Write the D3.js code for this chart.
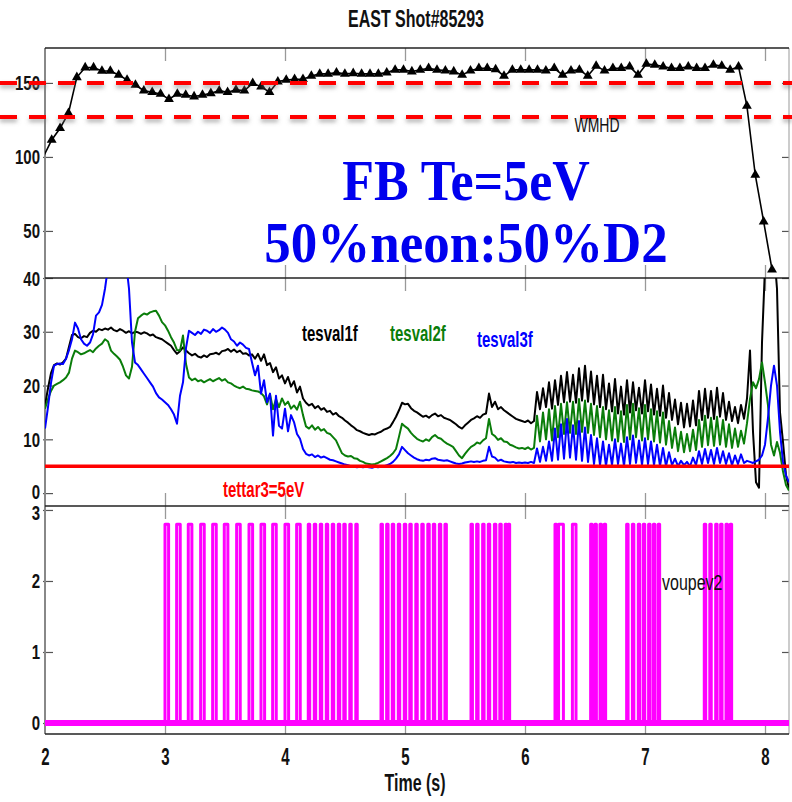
<!DOCTYPE html>
<html>
<head>
<meta charset="utf-8">
<script src="https://cdn.jsdelivr.net/npm/d3@7"></script>
<style>
  body { margin: 0; background: #fff; }
  svg { display: block; }
  text { font-family: "Liberation Sans", Arial, sans-serif; }
</style>
</head>
<body>
<div id="chart"></div>
<script>
// ---- data ----
const xTicks = [2, 3, 4, 5, 6, 7, 8];
const wmhdTicks = [50, 100, 150];
const teTicks = [0, 10, 20, 30, 40];
const vTicks = [0, 1, 2, 3];

// WMHD (triangles), sampled every ~0.07 s
const wmhdStart = 1.986, wmhdStep = 0.0698;
const wmhd = [100,
  111.5,119.4,129.5,153.8,160.4,160.4,158.1,158.1,155.4,152,
  148.6,144.8,143.7,142.6,139,142.6,141.9,140.8,141.9,143,
  144.8,143.7,145.3,144.8,149.8,147.5,143.7,150.9,152,152.5,
  152.5,154.7,156.1,156.1,157,156.1,156.5,156.1,156.1,156.1,
  157,158.8,
  158.8,157.7,158.8,159.9,158.8,158.3,157.7,155.4,158.3,159.9,
  159.9,159.2,154.7,158.8,158.8,158.8,158.8,158.3,159.9,155.4,
  158.3,158.8,154.7,161.5,158.3,159.9,159.9,161,155.4,162.8,
  162.2,161,159.9,159.9,161,159.9,159.9,162.2,161.5,158.8,161,
  134.5,87.8,56.3,23.9];
const wmhdRefs = [150, 127];

// electron temperatures, sampled every 0.025 s from 2.0 s
const teStart = 2.0, teStep = 0.025;
const tesval1f = [
  16.3,19.5,22.3,23.8,24.1,23.9,24.3,25.0,27.2,29.4,29.6,29.0,28.8,29.2,29.0,29.8,30.2,30.0,30.5,30.3,
  30.6,30.4,30.8,30.3,30.1,30.5,30.2,29.8,30.1,29.7,30.0,29.9,29.6,29.9,29.7,29.3,29.5,29.0,28.8,28.6,
  28.2,27.8,27.4,26.6,25.9,26.4,27.1,26.5,26.0,25.6,25.9,25.4,25.2,25.6,25.3,25.8,25.9,26.1,25.8,26.4,
  26.5,26.8,26.3,26.7,26.2,26.5,25.9,26.0,25.6,25.8,25.0,25.9,24.6,25.8,23.8,24.2,22.5,23.4,21.3,21.9,
  20.4,21.6,19.8,20.8,18.7,19.8,17.6,16.8,16.3,16.6,15.8,16.2,15.5,15.8,15.1,15.3,14.6,14.9,14.3,14.0,
  13.5,13.1,12.6,12.2,11.7,11.5,11.2,11.0,10.8,11.0,10.9,11.2,11.4,11.8,12.0,12.3,13.2,14.2,15.4,16.8,
  16.5,16.6,15.8,15.3,15.0,14.6,14.2,14.4,14.0,14.5,14.8,14.3,14.5,14.0,13.8,13.6,13.2,12.8,12.3,12.0,
  12.6,13.1,13.6,13.9,14.3,14.0,14.6,14.8,18.5,16.0,17.0,15.6,16.0,15.4,15.0,14.6,14.2,13.8,13.6,13.4,
  13.2,13.5,13.0,13.4,18.8,15.6,19.5,16.0,20.6,15.7,21.0,16.4,21.8,16.9,22.5,17.0,22.0,16.8,23.2,17.2,
  23.7,17.0,22.6,16.5,21.8,16.0,22.0,15.6,20.4,15.2,21.2,14.8,19.8,14.6,21.0,15.0,20.6,15.4,19.6,14.8,
  21.0,15.2,20.2,14.6,19.4,14.4,20.0,14.0,18.6,13.6,17.4,12.8,16.8,12.2,16.6,12.4,17.2,12.6,19.0,13.6,
  19.4,14.0,19.0,13.8,19.6,14.2,18.6,13.6,17.0,13.4,16.0,13.0,16.4,13.8,17.6,26.5,11.4,2.0,1.0,28.0,
  42.0,46.0,47.0,45.0,38.0,15.0,9.5,3.3,0.8];
const tesval2f = [
  15.7,17.5,19.0,20.0,20.3,20.6,21.0,21.5,22.4,25.0,26.5,26.2,25.8,26.0,26.3,26.6,26.2,26.9,27.4,27.8,
  28.6,28.2,26.5,25.9,25.4,24.8,23.5,21.9,21.3,23.5,30.0,32.5,33.0,33.4,33.2,33.6,33.8,33.9,33.0,31.8,
  31.2,30.2,29.0,28.0,26.6,26.5,29.3,24.0,21.5,21.0,21.3,20.8,21.0,20.6,20.9,21.2,20.8,21.1,21.4,20.9,
  21.2,20.6,20.4,20.0,19.7,19.5,19.8,19.4,19.3,19.1,19.0,18.9,18.6,18.0,16.5,18.4,15.6,17.5,16.0,17.6,
  16.4,17.0,15.7,16.3,15.5,17.0,14.5,12.4,12.0,12.6,11.8,12.3,11.6,11.9,11.2,11.0,10.4,9.8,8.6,7.4,
  7.0,6.8,6.9,6.5,6.4,6.0,5.8,5.5,5.4,5.3,5.4,5.6,5.9,6.2,6.5,6.9,7.4,8.2,10.5,12.9,
  12.4,12.0,11.2,10.6,10.1,9.8,9.6,10.0,9.7,10.4,10.8,10.3,10.1,9.6,9.2,8.9,8.6,7.8,7.0,6.5,
  7.3,8.0,8.6,8.9,9.4,9.2,9.8,10.2,13.8,11.0,10.6,9.9,10.2,9.6,9.5,9.0,8.8,8.5,8.3,8.4,
  8.2,8.5,8.1,8.4,14.4,9.6,15.0,10.0,15.6,9.8,16.2,10.4,16.6,11.0,16.9,11.2,17.0,11.0,17.5,11.4,
  17.2,11.2,16.6,10.8,16.2,10.4,16.0,10.0,15.4,9.8,16.0,9.6,15.2,9.5,16.4,10.0,16.6,10.4,15.8,9.8,
  16.4,10.0,15.6,9.6,15.2,9.4,15.0,9.0,13.4,8.4,12.2,7.8,11.4,7.6,11.0,7.8,11.8,8.0,13.6,8.6,
  14.4,8.9,14.0,8.8,14.2,9.0,13.6,8.6,12.8,8.4,12.0,8.6,11.6,9.2,13.0,17.5,20.6,19.5,21.2,24.3,
  20.6,16.3,9.0,7.0,9.5,7.5,4.0,1.5,0.5];
const tesval3f = [
  12.0,16.0,20.5,23.7,24.0,24.1,24.0,25.0,26.6,28.6,31.7,30.6,28.6,27.8,27.4,28.0,29.5,33.0,33.6,35.0,
  38.0,42.0,45.0,46.5,47.0,46.0,45.0,43.0,38.0,28.0,24.3,23.8,23.0,22.2,21.4,20.6,19.8,18.6,17.8,17.4,
  16.9,16.4,15.6,14.6,12.9,18.1,20.6,27.0,30.2,29.8,29.4,30.0,29.6,30.4,30.2,29.8,30.5,30.0,30.3,30.8,
  30.4,29.8,28.6,28.2,27.4,28.0,27.6,27.0,26.8,24.3,21.9,23.7,18.5,21.0,16.9,18.5,10.7,18.1,12.5,12.0,
  15.7,11.5,14.5,13.2,11.0,10.1,8.2,7.3,7.0,7.2,6.7,7.0,6.6,6.8,6.5,6.2,6.1,5.9,5.7,5.5,
  5.3,5.2,5.0,4.9,4.8,4.9,4.8,4.9,4.8,4.7,4.9,4.8,4.9,5.0,5.2,5.4,5.8,6.4,7.2,8.6,
  8.0,7.4,7.0,6.6,6.3,6.1,6.0,6.2,6.1,6.4,6.5,6.2,6.1,6.0,6.1,5.9,5.7,5.5,5.4,5.5,
  5.7,5.8,5.9,5.8,5.9,5.8,6.0,6.1,8.6,6.8,6.6,6.0,6.2,5.9,5.8,5.7,5.8,5.6,5.7,5.6,
  5.7,5.6,5.8,5.6,8.3,5.8,8.6,6.0,9.6,6.0,12.0,6.2,12.8,6.4,13.8,6.6,12.6,6.2,13.4,6.0,
  12.2,5.8,10.8,5.4,10.2,5.2,9.6,5.0,9.0,5.2,10.0,5.4,9.2,5.0,10.4,5.4,10.7,5.6,9.8,5.2,
  10.2,5.4,9.6,5.2,9.0,5.0,8.4,5.0,7.6,5.2,6.4,5.0,6.0,5.2,5.8,5.0,6.6,5.2,7.8,5.4,
  8.2,5.6,8.0,5.4,8.4,5.6,7.8,5.4,7.4,5.2,7.0,5.4,7.2,5.6,6.0,5.8,5.6,5.9,6.2,7.0,
  9.0,14.0,20.0,23.7,20.0,11.4,5.8,3.3,2.0];
const tettar3 = 5;

// voupev2 pulses: rising-edge times and widths (s)
const pulseStart = [
  3.00,3.097,3.194,3.297,3.397,3.494,3.597,3.70,3.80,3.897,4.00,4.097,
  4.194,4.244,4.294,4.344,4.394,4.444,4.49,4.54,4.59,
  4.80,4.847,4.894,4.944,4.994,5.04,5.09,5.14,5.19,5.236,5.286,5.333,
  5.55,5.597,5.647,5.694,5.745,5.79,5.835,5.86,
  6.25,6.28,6.395,
  6.547,6.583,6.625,6.66,
  6.847,6.895,6.944,6.986,7.03,7.07,7.11,
  7.494,7.54,7.589,7.63,7.675,7.71];
const pulseWidth = [
  0.03,0.03,0.03,0.03,0.03,0.03,0.03,0.03,0.03,0.03,0.03,0.03,
  0.012,0.012,0.012,0.012,0.012,0.012,0.012,0.012,0.012,
  0.012,0.012,0.012,0.012,0.012,0.012,0.012,0.012,0.012,0.012,0.012,0.012,
  0.012,0.012,0.012,0.012,0.012,0.012,0.012,0.012,
  0.012,0.04,0.03,
  0.012,0.012,0.012,0.012,
  0.012,0.012,0.012,0.012,0.012,0.012,0.012,
  0.012,0.012,0.012,0.012,0.012,0.012];
const pulseHigh = 2.8;

// ---- drawing ----
const W = 792, H = 802;
const left = 45, right = 789;
const svg = d3.select("#chart").append("svg").attr("width", W).attr("height", H);

const defs = svg.append("defs");
const sh = defs.append("filter").attr("id", "shadow").attr("filterUnits", "userSpaceOnUse")
  .attr("x", 0).attr("y", 0).attr("width", W).attr("height", H);
sh.append("feDropShadow").attr("dx", 0).attr("dy", 3).attr("stdDeviation", 2)
  .attr("flood-color", "#777").attr("flood-opacity", 0.6);

const x = d3.scaleLinear().domain([2, 8.2]).range([left, right]);
const yW = d3.scaleLinear().domain([18.2, 173.6]).range([278, 48]);
const yT = d3.scaleLinear().domain([-2.4, 40]).range([506, 278]);
const yV = d3.scaleLinear().domain([-0.155, 3.056]).range([734, 506]);
const fmt = d3.format("d");

const panels = [
  {id: "p1", y: yW, top: 48, bottom: 278, ticks: wmhdTicks},
  {id: "p2", y: yT, top: 278, bottom: 506, ticks: teTicks},
  {id: "p3", y: yV, top: 506, bottom: 734, ticks: vTicks}
];

panels.forEach(p => {
  defs.append("clipPath").attr("id", "clip-" + p.id)
    .append("rect").attr("x", left).attr("y", p.top).attr("width", right - left).attr("height", p.bottom - p.top);

  // inward x ticks, top and bottom
  svg.append("g").attr("transform", `translate(0,${p.top})`)
    .call(d3.axisTop(x).tickValues(xTicks.slice(1)).tickSizeInner(-13).tickSizeOuter(0).tickFormat(""))
    .call(g => g.select(".domain").remove())
    .call(g => g.selectAll("line").attr("stroke", "#999").attr("stroke-width", 1.3));
  svg.append("g").attr("transform", `translate(0,${p.bottom})`)
    .call(d3.axisBottom(x).tickValues(xTicks.slice(1)).tickSizeInner(-13).tickSizeOuter(0).tickFormat(""))
    .call(g => g.select(".domain").remove())
    .call(g => g.selectAll("line").attr("stroke", "#999").attr("stroke-width", 1.3));

  // left axis with labels
  svg.append("g").attr("transform", `translate(${left},0)`)
    .call(d3.axisLeft(p.y).tickValues(p.ticks).tickFormat(fmt).tickSizeInner(-8).tickSizeOuter(0))
    .call(g => g.select(".domain").remove())
    .call(g => g.selectAll("line").attr("stroke", "#555").attr("stroke-width", 1.2).attr("x1", -2))
    .call(g => g.selectAll("text")
      .attr("x", 0).attr("dy", 0)
      .attr("transform", d => {
        // the 0 of the Te panel and the 3 of the bottom panel sit almost on each other
        const off = (p.id === "p2" && d === 0) ? 5 : (p.id === "p3" && d === 3) ? 10 : 7;
        return `translate(-5,${off}) scale(1,1.3)`;
      })
      .style("font-size", "15px").style("font-weight", "bold").attr("fill", "#111"));

  // right inward ticks
  svg.append("g").attr("transform", `translate(${right},0)`)
    .call(d3.axisRight(p.y).tickValues(p.ticks).tickSizeInner(-7).tickSizeOuter(0).tickFormat(""))
    .call(g => g.select(".domain").remove())
    .call(g => g.selectAll("line").attr("stroke", "#555").attr("stroke-width", 1.2));
});

// frame
svg.append("line").attr("x1", left).attr("x2", left).attr("y1", 48).attr("y2", 734).attr("stroke", "#888").attr("stroke-width", 2);
svg.append("line").attr("x1", right).attr("x2", right).attr("y1", 48).attr("y2", 734).attr("stroke", "#aaa").attr("stroke-width", 1.2);
[48, 278, 506, 734].forEach(yy => {
  svg.append("line").attr("x1", left).attr("x2", right).attr("y1", yy).attr("y2", yy)
    .attr("stroke", "#222").attr("stroke-width", 1.3);
});

// x axis labels
svg.append("g").attr("transform", "translate(0,734)")
  .call(d3.axisBottom(x).tickValues(xTicks).tickFormat(fmt).tickSize(0))
  .call(g => g.select(".domain").remove())
  .call(g => g.selectAll("text")
    .attr("y", 0).attr("dy", 0)
    .attr("transform", "translate(0,31) scale(1,1.6)")
    .style("font-size", "15px").style("font-weight", "bold").attr("fill", "#111"));

function label(txt, px, py, opts) {
  const o = Object.assign({size: 15, weight: "normal", fill: "#111", anchor: "start", sy: 1.45, family: null}, opts);
  const t = svg.append("text").text(txt)
    .attr("transform", `translate(${px},${py}) scale(1,${o.sy})`)
    .attr("text-anchor", o.anchor)
    .style("font-size", o.size + "px").style("font-weight", o.weight).attr("fill", o.fill);
  if (o.family) t.style("font-family", o.family);
  return t;
}

// --- panel 1: WMHD
const wmhdPts = wmhd.map((v, i) => [wmhdStart + wmhdStep * i, v]);
const g1 = svg.append("g").attr("clip-path", "url(#clip-p1)");
g1.append("path").datum(wmhdPts)
  .attr("d", d3.line().x(d => x(d[0])).y(d => yW(d[1])))
  .attr("fill", "none").attr("stroke", "#000").attr("stroke-width", 1.6);
g1.selectAll("path.tri").data(wmhdPts.slice(1)).join("path").attr("class", "tri")
  .attr("d", d3.symbol(d3.symbolTriangle, 42))
  .attr("transform", d => `translate(${x(d[0])},${yW(d[1])})`)
  .attr("fill", "#000");

// --- panel 2: Te
const g2 = svg.append("g").attr("clip-path", "url(#clip-p2)");
const teLine = d3.line().x((d, i) => x(teStart + teStep * i)).y(d => yT(d));
[[tesval1f, "#000"], [tesval2f, "#0a7d0a"], [tesval3f, "#0000ff"]].forEach(([s, c]) => {
  g2.append("path").datum(s).attr("d", teLine)
    .attr("fill", "none").attr("stroke", c).attr("stroke-width", 2).attr("stroke-linejoin", "round");
});
g2.append("line").attr("x1", left).attr("x2", right).attr("y1", yT(tettar3)).attr("y2", yT(tettar3))
  .attr("stroke", "#ff0000").attr("stroke-width", 3.5);

// --- panel 3: voupev2
const voupev2 = [[2.0, 0]];
pulseStart.forEach((s, i) => {
  const w = pulseWidth[i];
  voupev2.push([s, 0], [s, pulseHigh], [s + w, pulseHigh], [s + w, 0]);
});
voupev2.push([8.2, 0]);
const g3 = svg.append("g").attr("clip-path", "url(#clip-p3)");
g3.append("path").datum(voupev2)
  .attr("d", d3.line().x(d => x(d[0])).y(d => yV(d[1])))
  .attr("fill", "none").attr("stroke", "#ff00ff").attr("stroke-width", 3).attr("stroke-linejoin", "round");
g3.append("line").attr("x1", left).attr("x2", right).attr("y1", yV(0)).attr("y2", yV(0))
  .attr("stroke", "#ff00ff").attr("stroke-width", 6);

// red dashed WMHD reference lines across the whole width
wmhdRefs.forEach(v => {
  svg.append("line").attr("x1", 0).attr("x2", W).attr("y1", yW(v)).attr("y2", yW(v))
    .attr("stroke", "#ff0000").attr("stroke-width", 4).attr("stroke-dasharray", "17,12")
    .attr("filter", "url(#shadow)");
});

// texts
label("EAST Shot#85293", 416, 27, {size: 16, weight: "bold", anchor: "middle", sy: 1.55});
label("Time (s)", 415, 791, {size: 16, weight: "bold", anchor: "middle", sy: 1.5});
label("WMHD", 597, 132, {size: 14, anchor: "middle", sy: 1.45});
label("tesval1f", 302, 341, {size: 15, weight: "bold", fill: "#000", sy: 1.5});
label("tesval2f", 390, 341, {size: 15, weight: "bold", fill: "#0a7d0a", sy: 1.5});
label("tesval3f", 477, 347, {size: 15, weight: "bold", fill: "#0000ff", sy: 1.5});
label("tettar3=5eV", 223, 497, {size: 15, weight: "bold", fill: "#ff0000", sy: 1.5});
label("voupev2", 662, 590, {size: 16, fill: "#111", sy: 1.4});
label("FB Te=5eV", 466, 200, {size: 52, weight: "bold", fill: "#0000ee", anchor: "middle", sy: 1.08, family: "'Liberation Serif', 'Times New Roman', serif"});
label("50%neon:50%D2", 466, 262, {size: 53, weight: "bold", fill: "#0000ee", anchor: "middle", sy: 1.08, family: "'Liberation Serif', 'Times New Roman', serif"});
</script>
</body>
</html>
